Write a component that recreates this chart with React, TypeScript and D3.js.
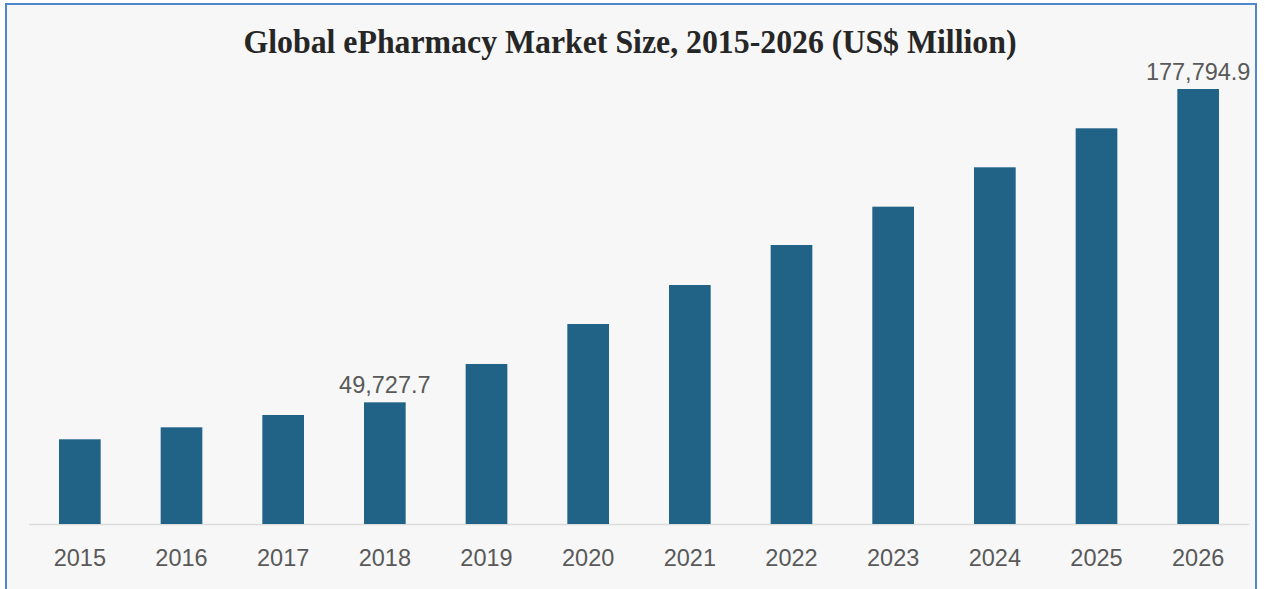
import React from "react";
import * as d3 from "d3";

const years = ["2015","2016","2017","2018","2019","2020","2021","2022","2023","2024","2025","2026"];
const values = [34620, 39520, 44550, 49727.7, 65400, 81740, 97680, 114030, 129690, 145790, 161730, 177794.9];
const labeledYears = ["2018", "2026"];
const title = "Global ePharmacy Market Size, 2015-2026 (US$ Million)";

const W = 1265, H = 589;
const baseY = 524;
const topY = 89;
const xLeft = 29, xRight = 1249;

export default function App() {
  const x = d3.scaleBand<string>().domain(years).range([xLeft, xRight]).paddingInner(0.59).paddingOuter(0.295);
  const y = d3.scaleLinear().domain([0, d3.max(values) as number]).range([baseY, topY]);
  const fmt = d3.format(",.1f");
  const numFont = "'Liberation Sans', Arial, Helvetica, sans-serif";
  return (
    <svg width={W} height={H} style={{ position: "absolute", left: 0, top: 0 }}>
      <rect x={0} y={0} width={W} height={H} fill="#ffffff" />
      <rect x={6} y={4} width={1250} height={620} fill="#f7f7f7" stroke="#4f86cc" strokeWidth={2} />
      <text x={630} y={53} textAnchor="middle" fontFamily="'Liberation Serif', 'Times New Roman', serif" fontWeight="bold" fontSize={34} textLength={773} lengthAdjust="spacingAndGlyphs" fill="#262626">{title}</text>
      <line x1={xLeft} x2={xRight} y1={baseY + 0.5} y2={baseY + 0.5} stroke="#dcdcdc" strokeWidth={1.5} />
      {years.map((yr, i) => (
        <rect key={yr} x={x(yr)} y={y(values[i])} width={x.bandwidth()} height={baseY - y(values[i])} fill="#216287" />
      ))}
      {years.map((yr, i) => labeledYears.includes(yr) ? (
        <text key={"l" + yr} x={(x(yr) as number) + x.bandwidth() / 2} y={y(values[i]) - 9} textAnchor="middle" fontFamily={numFont} fontSize={23.5} fill="#595959">{fmt(values[i])}</text>
      ) : null)}
      {years.map((yr) => (
        <text key={"t" + yr} x={(x(yr) as number) + x.bandwidth() / 2} y={566} textAnchor="middle" fontFamily={numFont} fontSize={23.5} fill="#595959">{yr}</text>
      ))}
    </svg>
  );
}
